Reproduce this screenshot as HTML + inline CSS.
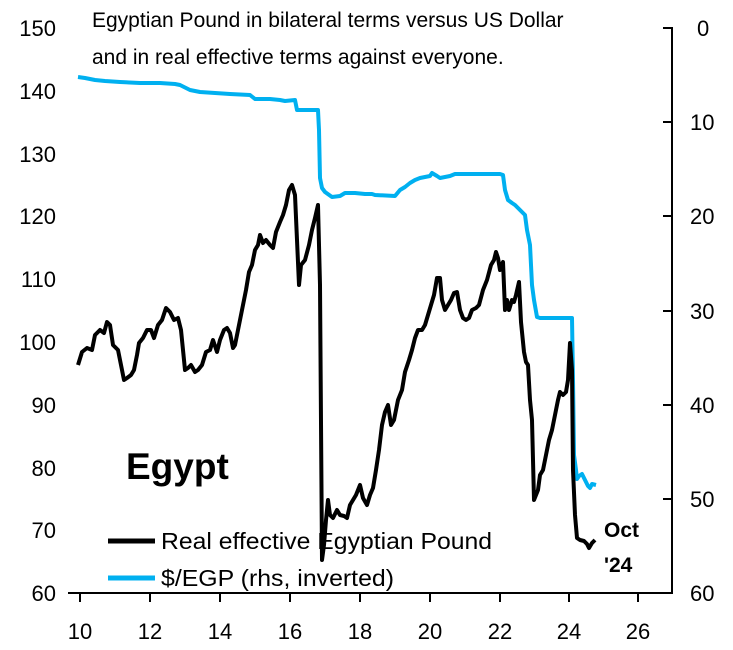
<!DOCTYPE html>
<html><head><style>
body{margin:0;background:#fff;}
svg{font-family:"Liberation Sans",Arial,sans-serif;}
</style></head><body>
<svg width="733" height="645" xmlns="http://www.w3.org/2000/svg">
<rect width="733" height="645" fill="#fff"/>
<g font-size="22" fill="#000" text-anchor="end">
<text x="56" y="36">150</text><text x="56" y="99">140</text><text x="56" y="162">130</text>
<text x="56" y="224">120</text><text x="56" y="287">110</text><text x="56" y="350">100</text>
<text x="56" y="413">90</text><text x="56" y="476">80</text><text x="56" y="538">70</text>
<text x="56" y="601">60</text>
</g>
<g font-size="22" fill="#000" text-anchor="start">
<text x="697" y="36">0</text><text x="690" y="130">10</text><text x="690" y="224">20</text>
<text x="690" y="319">30</text><text x="690" y="413">40</text><text x="690" y="507">50</text>
<text x="690" y="601">60</text>
</g>
<g stroke="#000" stroke-width="2" fill="none">
<line x1="68" y1="593" x2="673" y2="593"/>
<line x1="672" y1="27" x2="672" y2="594"/>
<line x1="663" y1="28" x2="672" y2="28"/><line x1="663" y1="122" x2="672" y2="122"/>
<line x1="663" y1="216" x2="672" y2="216"/><line x1="663" y1="311" x2="672" y2="311"/>
<line x1="663" y1="405" x2="672" y2="405"/><line x1="663" y1="499" x2="672" y2="499"/>
<line x1="80" y1="593" x2="80" y2="602"/><line x1="150" y1="593" x2="150" y2="602"/>
<line x1="220" y1="593" x2="220" y2="602"/><line x1="290" y1="593" x2="290" y2="602"/>
<line x1="360" y1="593" x2="360" y2="602"/><line x1="430" y1="593" x2="430" y2="602"/>
<line x1="500" y1="593" x2="500" y2="602"/><line x1="569" y1="593" x2="569" y2="602"/>
<line x1="638" y1="593" x2="638" y2="602"/>
</g>
<g font-size="22" fill="#000" text-anchor="middle">
<text x="80" y="639">10</text><text x="150" y="639">12</text><text x="220" y="639">14</text>
<text x="290" y="639">16</text><text x="360" y="639">18</text><text x="430" y="639">20</text>
<text x="500" y="639">22</text><text x="569" y="639">24</text><text x="638" y="639">26</text>
</g>
<polyline fill="none" stroke="#00b0f0" stroke-width="4" stroke-linejoin="round" points="78,77 85,78 95,80 105,81 120,82 140,83 160,83 175,84 180,85 190,90 200,92 215,93 230,94 250,95 255,99 270,99 280,100 285,101 295,100 297,110 318,110 319,130 320,178 322,188 325,192 332,197 340,196 345,193 355,193 365,194 372,194 375,195 395,196 400,190 405,187 410,183 415,180 420,178 425,177 430,176 432,173 437,176 440,178 450,176 455,174 500,174 503,175 505,190 508,200 512,203 515,205 520,210 525,215 527,230 530,245 532,285 534,300 537,317 540,318 572,318 573,380 574,455 576,470 577,479 579,476 582,474 585,480 588,486 590,488 592,484 596,485"/>
<polyline fill="none" stroke="#000" stroke-width="4" stroke-linejoin="round" points="78,365 82,352 87,348 92,350 95,335 100,330 104,333 107,322 110,325 113,345 118,350 121,365 124,380 127,378 131,375 134,370 137,355 139,343 143,338 147,330 151,330 154,338 158,325 162,320 166,308 170,312 174,320 178,318 181,330 185,370 188,368 191,365 195,372 198,370 202,365 206,352 210,350 213,340 217,352 220,340 224,330 227,328 230,333 233,348 235,345 238,330 242,310 246,290 249,272 252,265 255,250 258,245 260,235 263,243 266,240 270,245 273,248 276,232 280,222 283,215 286,205 289,190 292,185 295,195 297,240 299,285 301,265 305,260 309,245 312,230 315,218 318,205 320,285 322,560 324,545 326,520 328,500 330,515 333,518 337,510 340,515 344,516 347,518 350,505 353,500 356,495 360,485 363,498 367,505 370,495 373,488 376,470 379,450 382,425 385,412 388,405 391,425 394,420 398,400 402,390 405,372 409,360 412,350 415,338 418,330 422,330 425,325 428,315 431,305 434,295 437,278 440,278 442,300 445,310 448,305 451,300 454,293 457,292 460,310 463,318 466,320 469,318 472,310 476,308 479,305 483,290 487,280 491,265 494,260 496,252 498,258 500,270 503,262 505,310 507,300 509,310 512,300 514,302 516,295 519,282 521,322 524,352 526,362 528,365 530,400 532,420 534,500 536,495 538,490 540,475 543,470 546,455 549,440 552,430 555,415 558,400 560,392 563,395 566,392 568,380 570,343 572,370 573,470 575,515 577,538 580,540 584,541 587,544 589,548 592,543 595,540"/>
<g font-size="21" fill="#000">
<text x="92" y="27">Egyptian Pound in bilateral terms versus US Dollar</text>
<text x="92" y="64">and in real effective terms against everyone.</text>
<text x="126" y="479" font-size="37" font-weight="bold">Egypt</text>
<line x1="108" y1="541" x2="155" y2="541" stroke="#000" stroke-width="5"/>
<text x="161" y="549" font-size="23" textLength="331" lengthAdjust="spacingAndGlyphs">Real effective Egyptian Pound</text>
<line x1="108" y1="578" x2="155" y2="578" stroke="#00b0f0" stroke-width="5"/>
<text x="161" y="586" font-size="23" textLength="233" lengthAdjust="spacingAndGlyphs">$/EGP (rhs, inverted)</text>
<text x="604" y="537" font-weight="bold">Oct</text>
<text x="604" y="572" font-weight="bold">'24</text>
</g>
</svg>
</body></html>
